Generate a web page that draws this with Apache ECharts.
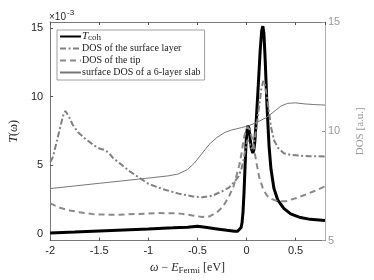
<!DOCTYPE html>
<html>
<head>
<meta charset="utf-8">
<script src="https://cdn.jsdelivr.net/npm/echarts@6/dist/echarts.min.js"></script>
<style>html,body{margin:0;padding:0;background:#fff}#c{width:374px;height:280px}</style>
</head>
<body>
<div id="c"></div>
<script>
// T_coh (units of 1e-3), left axis
var xT = [-2, -1.75, -1.5, -1.25, -1, -0.75, -0.6, -0.5, -0.4, -0.3, -0.2, -0.12, -0.09, -0.07, -0.055, -0.045, -0.035, -0.025, -0.015, -0.005, 0.005, 0.015, 0.025, 0.035, 0.05, 0.065, 0.075, 0.085, 0.1, 0.12, 0.14, 0.155, 0.167, 0.178, 0.19, 0.21, 0.23, 0.25, 0.28, 0.32, 0.38, 0.45, 0.55, 0.65, 0.8];
var yT = [0.05, 0.12, 0.2, 0.28, 0.35, 0.43, 0.48, 0.55, 0.45, 0.35, 0.25, 0.18, 0.18, 0.25, 0.45, 0.8, 1.6, 3.0, 4.8, 6.5, 7.5, 7.9, 7.7, 7.1, 6.2, 5.9, 6.1, 6.7, 8.3, 10.8, 13.4, 14.8, 15.15, 14.6, 12.8, 9.2, 6.4, 4.7, 3.3, 2.45, 1.85, 1.45, 1.18, 1.05, 0.97];
// DOS of the surface layer, right axis
var xSurf = [-2, -1.985, -1.97, -1.94, -1.91, -1.88, -1.86, -1.845, -1.81, -1.77, -1.715, -1.64, -1.553, -1.49, -1.44, -1.4, -1.36, -1.28, -1.197, -1.1, -1.0, -0.85, -0.7, -0.55, -0.45, -0.35, -0.25, -0.18, -0.12, -0.08, -0.05, -0.03, -0.01, 0.01, 0.03, 0.05, 0.07, 0.1, 0.13, 0.15, 0.17, 0.19, 0.22, 0.25, 0.28, 0.32, 0.38, 0.45, 0.55, 0.65, 0.8];
var ySurf = [8.6, 8.7, 8.85, 9.4, 9.95, 10.5, 10.83, 10.93, 10.68, 10.3, 9.95, 9.65, 9.36, 9.2, 9.14, 9.0, 8.78, 8.5, 8.19, 7.9, 7.6, 7.35, 7.16, 7.02, 6.98, 7.05, 7.25, 7.42, 7.7, 7.95, 8.3, 8.7, 9.2, 9.6, 9.5, 9.2, 9.3, 10.1, 11.2, 11.9, 12.3, 12.1, 11.2, 10.2, 9.6, 9.25, 9.0, 8.92, 8.88, 8.86, 8.85];
// DOS of the tip, right axis
var xTip = [-2, -1.9, -1.8, -1.7, -1.55, -1.35, -1.1, -0.9, -0.7, -0.55, -0.45, -0.38, -0.3, -0.24, -0.18, -0.13, -0.1, -0.07, -0.05, -0.03, -0.01, 0.01, 0.03, 0.05, 0.07, 0.1, 0.13, 0.17, 0.21, 0.26, 0.32, 0.4, 0.5, 0.6, 0.7, 0.8];
var yTip = [6.7, 6.5, 6.38, 6.3, 6.2, 6.18, 6.22, 6.26, 6.25, 6.15, 6.08, 6.1, 6.3, 6.55, 7.0, 7.5, 8.0, 8.5, 9.0, 9.6, 10.0, 10.2, 10.1, 9.8, 9.4, 8.6, 7.9, 7.35, 7.05, 6.9, 6.8, 6.8, 6.94, 7.1, 7.28, 7.48];
// surface DOS of a 6-layer slab, right axis
var xSlab = [-2, -1.5, -1, -0.8, -0.7, -0.6, -0.53, -0.45, -0.38, -0.3, -0.22, -0.15, -0.05, 0.02, 0.1, 0.2, 0.28, 0.35, 0.42, 0.5, 0.6, 0.7, 0.8];
var ySlab = [7.38, 7.62, 7.86, 7.96, 8.04, 8.25, 8.55, 9.0, 9.4, 9.72, 9.95, 10.06, 10.17, 10.25, 10.4, 10.62, 10.9, 11.15, 11.28, 11.3, 11.25, 11.22, 11.2];

var xTicks = [-2, -1.5, -1, -0.5, 0, 0.5];
var leftTicks = [0, 5, 10, 15];
var rightTicks = [5, 10, 15];
var names = ['T_coh', 'DOS of the surface layer', 'DOS of the tip', 'surface DOS of a 6-layer slab'];

function pairs(xs, ys) { return xs.map(function (x, i) { return [x, ys[i]]; }); }

var serif = 'Liberation Serif';
var sans = 'Liberation Sans';
var chart = echarts.init(document.getElementById('c'), null, {renderer: 'canvas'});
chart.setOption({
  animation: false,
  backgroundColor: '#fff',
  grid: {left: 49, right: 36, top: 22, bottom: 31},
  xAxis: [{
    type: 'value', min: -2, max: 0.8, interval: 0.5, position: 'bottom',
    axisLine: {onZero: false, lineStyle: {color: '#555', width: 0.8}},
    axisTick: {inside: true, length: 3, lineStyle: {color: '#555'}},
    axisLabel: {color: '#262626', fontFamily: sans, fontSize: 11, margin: 5,
      formatter: function (v) { return String(v); }, showMaxLabel: false},
    splitLine: {show: false},
    name: '{i|ω} − {i|E}{s|Fermi} [eV]', nameLocation: 'middle', nameGap: 18,
    nameTextStyle: {fontFamily: serif, fontSize: 12, color: '#262626',
      rich: {i: {fontFamily: serif, fontStyle: 'italic', fontSize: 12},
             s: {fontFamily: serif, fontSize: 9, verticalAlign: 'bottom', padding: [6, 0, 0, 0]}}}
  }, {
    type: 'value', position: 'top', min: -2, max: 0.8, interval: 0.5,
    axisLine: {show: true, onZero: false, lineStyle: {color: '#555', width: 0.8}},
    axisTick: {inside: true, length: 3, lineStyle: {color: '#555'}},
    axisLabel: {show: false}, splitLine: {show: false}
  }],
  yAxis: [{
    type: 'value', min: -0.5, max: 15.45, position: 'left',
    axisLine: {show: true, onZero: false, lineStyle: {color: '#555', width: 0.8}},
    axisTick: {inside: true, length: 3, customValues: leftTicks, lineStyle: {color: '#555'}},
    axisLabel: {customValues: leftTicks, color: '#262626', fontFamily: sans, fontSize: 11, margin: 7},
    splitLine: {show: false},
    name: '{i|T}(ω)', nameLocation: 'middle', nameGap: 14, nameRotate: 90,
    nameTextStyle: {fontFamily: serif, fontSize: 12, color: '#262626',
      rich: {i: {fontFamily: serif, fontStyle: 'italic', fontSize: 12}}}
  }, {
    type: 'value', min: 5, max: 15, interval: 5, position: 'right',
    axisLine: {show: true, onZero: false, lineStyle: {color: '#999', width: 0.8}},
    axisTick: {inside: true, length: 3, lineStyle: {color: '#999'}},
    axisLabel: {color: '#999', fontFamily: sans, fontSize: 11, margin: 3},
    splitLine: {show: false},
    name: 'DOS [a.u.]', nameLocation: 'middle', nameGap: 30, nameRotate: 90,
    nameTextStyle: {fontFamily: serif, fontSize: 11, color: '#999'}
  }],
  legend: {
    orient: 'vertical', left: 57, top: 30,
    itemWidth: 21, itemHeight: 10, itemGap: 1,
    padding: [1, 4, 2, 2],
    borderColor: '#888', borderWidth: 0.8, backgroundColor: '#fff',
    data: names,
    itemStyle: {opacity: 0},
    formatter: function (n) { return n === 'T_coh' ? '{i|T}{s|coh}' : n; },
    textStyle: {fontFamily: serif, fontSize: 10, color: '#222', lineHeight: 11, padding: [0, 0, 0, -4],
      rich: {i: {fontFamily: serif, fontStyle: 'italic', fontSize: 11},
             s: {fontFamily: serif, fontSize: 9, verticalAlign: 'bottom', padding: [5, 0, 0, 0]}}}
  },
  graphic: [{
    type: 'text', left: 49, top: 9,
    style: {text: '{a|×10}{b|-3}', rich: {
      a: {fontFamily: sans, fontSize: 10, fill: '#262626', padding: [4, 0, 0, 0]},
      b: {fontFamily: sans, fontSize: 8, fill: '#262626', padding: [0, 0, 4, 1]}}}
  }],
  series: [{
    name: names[0], type: 'line', xAxisIndex: 0, yAxisIndex: 0, showSymbol: false, symbol: 'none',
    data: pairs(xT, yT), lineStyle: {color: '#000', width: 3}, itemStyle: {color: '#000'}
  }, {
    name: names[1], type: 'line', xAxisIndex: 0, yAxisIndex: 1, showSymbol: false, symbol: 'none',
    data: pairs(xSurf, ySurf), lineStyle: {color: '#808080', width: 2, type: [6, 2.5, 2, 2.5]}, itemStyle: {color: '#808080'}
  }, {
    name: names[2], type: 'line', xAxisIndex: 0, yAxisIndex: 1, showSymbol: false, symbol: 'none',
    data: pairs(xTip, yTip), lineStyle: {color: '#8a8a8a', width: 2, type: [6, 4]}, itemStyle: {color: '#8a8a8a'}
  }, {
    name: names[3], type: 'line', xAxisIndex: 0, yAxisIndex: 1, showSymbol: false, symbol: 'none',
    data: pairs(xSlab, ySlab), lineStyle: {color: '#777', width: 1}, itemStyle: {color: '#777'}
  }]
});
</script>
</body>
</html>
